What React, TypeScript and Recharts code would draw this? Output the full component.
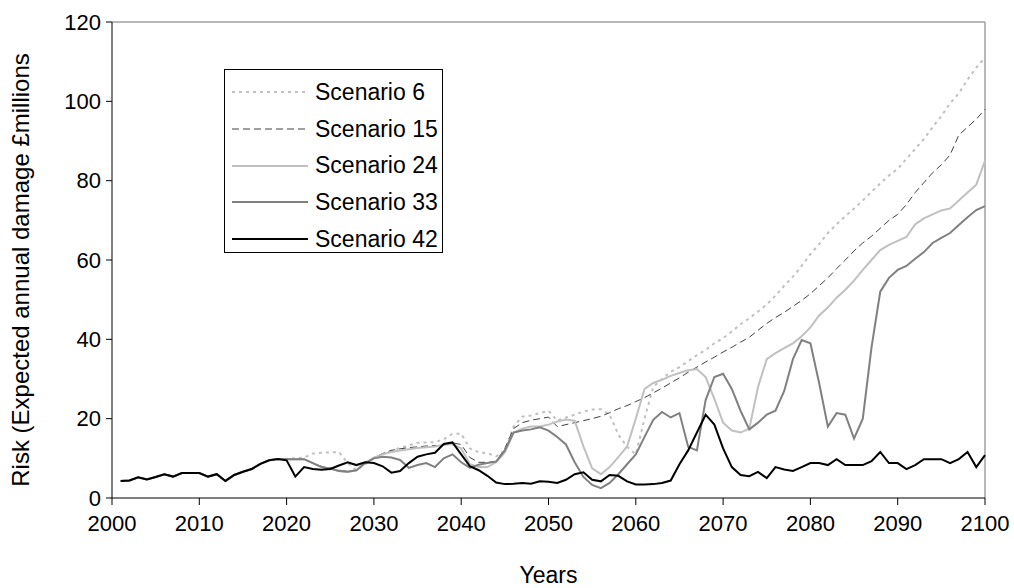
import { LineChart, Line, XAxis, YAxis, Legend, ReferenceLine } from 'recharts'

const FONT = '"Liberation Sans", Arial, sans-serif'

// years on the x axis, 2001..2100
const years = Array.from({ length: 100 }, (_, i) => 2001 + i)

const xTicks = [2000, 2010, 2020, 2030, 2040, 2050, 2060, 2070, 2080, 2090, 2100]
const yTicks = [0, 20, 40, 60, 80, 100, 120]

const scenario6 = [
  4.3, 4.4, 5.2, 4.7, 5.3, 6.0, 5.4, 6.3, 6.3, 6.3, 5.4, 6.0, 4.3, 5.8, 6.6, 7.3, 8.6, 9.5, 9.8,
  9.9, 10.0, 10.2, 11.2, 11.4, 11.5, 11.6, 8.8, 7.0, 8.5, 10.0, 11.0, 12.0, 12.6, 13.3, 13.9, 14.0, 14.1, 14.8, 16.2,
  16.2, 12.5, 11.5, 11.3, 10.5, 12.0, 18.0, 20.5, 20.8, 21.4, 22.0, 19.5, 20.3, 21.0, 21.8, 22.3, 22.4, 21.0, 16.0, 12.9,
  11.0, 20.0, 28.0, 30.0, 31.8, 33.0, 34.5, 36.0, 37.3, 39.0, 40.3, 42.0, 43.8, 45.3, 47.0, 48.8, 51.0, 53.5, 55.8, 58.5,
  61.5, 64.0, 66.8, 69.0, 71.0, 73.0, 75.0, 77.2, 79.3, 81.3, 83.0, 85.5, 88.0, 90.5, 93.5, 96.3, 99.5, 102.0, 105.5, 108.5,
  111.0,
]

const scenario15 = [
  4.3, 4.4, 5.2, 4.7, 5.3, 6.0, 5.4, 6.3, 6.3, 6.3, 5.4, 6.0, 4.3, 5.8, 6.6, 7.3, 8.6, 9.5, 9.8,
  9.8, 9.8, 9.8, 8.8, 8.0, 7.6, 7.0, 6.8, 7.0, 8.8, 10.2, 11.2, 12.0, 12.4, 12.7, 12.9, 13.1, 13.2, 13.3, 13.9,
  13.5, 10.2, 9.0, 9.0, 9.2, 12.5, 17.5, 19.0, 19.6, 20.0, 20.4, 18.0, 18.5, 19.0, 19.5, 20.0, 20.6, 21.5, 22.5, 23.3,
  24.3, 25.3, 26.5, 27.7, 29.0, 30.3, 31.7, 33.0, 34.3, 35.5, 36.8, 38.0, 39.3, 40.5, 42.3, 44.0, 45.5, 46.8, 48.3, 49.8,
  51.5, 53.5, 55.5, 57.8, 60.0, 62.3, 64.3, 66.0, 68.0, 70.0, 71.5, 74.0, 77.0, 79.5, 82.0, 84.0, 86.5, 91.5, 93.5, 95.5,
  98.0,
]

const scenario24 = [
  4.3, 4.4, 5.2, 4.7, 5.3, 6.0, 5.4, 6.3, 6.3, 6.3, 5.4, 6.0, 4.3, 5.8, 6.6, 7.3, 8.6, 9.5, 9.8,
  9.8, 9.8, 9.8, 8.8, 7.8, 7.4, 6.8, 6.6, 7.0, 8.8, 10.2, 11.0, 11.6, 12.0, 12.3, 12.6, 12.8, 13.0, 13.4, 13.6,
  12.5, 8.5, 7.8, 7.8, 9.0, 11.5, 16.5, 17.5, 18.0, 18.0, 18.5, 19.3, 19.8, 19.5, 13.0, 7.5, 6.0, 7.8, 10.3, 13.0,
  20.0, 27.5, 29.0, 29.8, 30.8, 31.5, 32.2, 32.5, 30.5, 25.0, 19.0, 17.0, 16.5, 17.5, 28.0, 35.0, 36.5, 37.8, 39.0, 40.8,
  43.0, 46.0, 48.0, 50.5, 52.5, 54.8, 57.5, 60.0, 62.5, 63.8, 64.8, 65.8, 69.0, 70.5, 71.5, 72.5, 73.0, 75.0, 77.0, 79.0,
  85.0,
]

const scenario33 = [
  4.3, 4.4, 5.2, 4.7, 5.3, 6.0, 5.4, 6.3, 6.3, 6.3, 5.4, 6.0, 4.3, 5.8, 6.6, 7.3, 8.6, 9.5, 9.8,
  9.8, 9.8, 9.8, 8.8, 7.8, 7.4, 6.8, 6.6, 7.0, 8.8, 10.0, 10.4, 10.2, 9.6, 7.6, 8.3, 8.8, 7.8, 10.0, 11.0,
  9.0, 7.6, 8.4, 8.8, 9.2, 12.0, 16.5, 17.0, 17.3, 17.8, 17.0, 15.4, 13.5, 9.0, 5.3, 3.3, 2.5, 3.8, 6.0, 8.5,
  11.0, 15.4, 19.7, 21.7, 20.3, 21.4, 12.9, 12.0, 24.7, 30.5, 31.3, 27.5, 22.0, 17.3, 19.0, 21.0, 22.0, 27.0, 35.0, 39.8,
  39.0, 29.0, 18.0, 21.4, 21.0, 15.0, 20.0, 38.0, 52.0, 55.5, 57.5, 58.5, 60.3, 62.0, 64.3, 65.6, 66.8, 68.8, 70.8, 72.6,
  73.6,
]

const scenario42 = [
  4.3, 4.4, 5.2, 4.7, 5.3, 6.0, 5.4, 6.3, 6.3, 6.3, 5.4, 6.0, 4.3, 5.8, 6.6, 7.3, 8.6, 9.5, 9.8,
  9.5, 5.4, 7.8, 7.3, 7.1, 7.3, 8.2, 9.0, 8.3, 9.0, 8.8, 8.0, 6.4, 6.8, 8.8, 10.4, 11.0, 11.4, 13.6, 14.0,
  11.0, 8.0, 7.0, 5.6, 3.9, 3.5, 3.6, 3.8, 3.6, 4.2, 4.1, 3.8, 4.6, 6.0, 6.5, 4.6, 4.2, 5.8, 5.6, 4.2,
  3.4, 3.4, 3.5, 3.8, 4.4, 8.5, 12.0, 16.5, 21.0, 18.5, 12.5, 7.8, 5.8, 5.5, 6.6, 5.0, 7.8, 7.2, 6.8, 7.8,
  8.8, 8.8, 8.3, 9.8, 8.3, 8.3, 8.3, 9.3, 11.6, 8.8, 8.8, 7.3, 8.3, 9.8, 9.8, 9.8, 8.8, 9.8, 11.6, 7.8,
  10.8,
]

const SERIES = [
  { key: 's6', name: 'Scenario 6', values: scenario6, color: '#c0c0c0', width: 2, dash: '3 4' },
  { key: 's15', name: 'Scenario 15', values: scenario15, color: '#404040', width: 1, dash: '7 4' },
  { key: 's24', name: 'Scenario 24', values: scenario24, color: '#c0c0c0', width: 2, dash: undefined },
  { key: 's33', name: 'Scenario 33', values: scenario33, color: '#808080', width: 2, dash: undefined },
  { key: 's42', name: 'Scenario 42', values: scenario42, color: '#000000', width: 2, dash: undefined },
]

const data = years.map((year, i) => {
  const row: Record<string, number> = { year }
  SERIES.forEach(s => { row[s.key] = s.values[i] })
  return row
})

function LegendBox() {
  return (
    <div style={{
      width: 219, height: 184, boxSizing: 'border-box', border: '1px solid #000',
      background: '#fff', paddingTop: 4, fontFamily: FONT,
    }}>
      {SERIES.map(s => (
        <div key={s.key} style={{ display: 'flex', alignItems: 'center', height: 36.7 }}>
          <svg width={76} height={6} style={{ marginLeft: 7, flexShrink: 0 }}>
            <line x1={0} y1={3} x2={76} y2={3} stroke={s.color}
              strokeWidth={s.width} strokeDasharray={s.dash} />
          </svg>
          <span style={{ marginLeft: 7, fontSize: 23, color: '#000', whiteSpace: 'nowrap' }}>
            {s.name}
          </span>
        </div>
      ))}
    </div>
  )
}

function YLabel({ viewBox }: any) {
  const cx = viewBox.x + 20
  const cy = viewBox.y + viewBox.height / 2 + 10
  return (
    <text x={cx} y={cy} transform={`rotate(-90, ${cx}, ${cy})`} textAnchor="middle"
      dominantBaseline="central" fontSize={24} fontFamily={FONT} fill="#000">
      Risk (Expected annual damage £millions
    </text>
  )
}

function XLabel({ viewBox }: any) {
  return (
    <text x={viewBox.x + viewBox.width / 2} y={viewBox.y + 77} textAnchor="middle"
      dominantBaseline="central" fontSize={23} fontFamily={FONT} fill="#000">
      Years
    </text>
  )
}

export default function App() {
  return (
    <div style={{ position: 'absolute', left: 0, top: 0, width: 1014, height: 588, background: '#fff', fontFamily: FONT }}>
      <LineChart width={1014} height={588} data={data}
        margin={{ top: 22, right: 29, left: 0, bottom: 0 }}>
        <XAxis dataKey="year" type="number" domain={[2000, 2100]} ticks={xTicks}
          height={90} tickSize={7} tickMargin={10} interval={0}
          stroke="#000" tick={{ fill: '#000', fontSize: 22, fontFamily: FONT }}
          label={<XLabel />} />
        <YAxis domain={[0, 120]} ticks={yTicks} width={112} tickSize={6} tickMargin={5}
          interval={0} stroke="#000" tick={{ fill: '#000', fontSize: 22, fontFamily: FONT }}
          label={<YLabel />} />
        <ReferenceLine y={120} stroke="#a0a0a0" strokeWidth={1.5} />
        <ReferenceLine x={2100} stroke="#a0a0a0" strokeWidth={1.5} />
        {SERIES.map(s => (
          <Line key={s.key} dataKey={s.key} name={s.name} type="linear"
            stroke={s.color} strokeWidth={s.width} strokeDasharray={s.dash}
            dot={false} activeDot={false} isAnimationActive={false} />
        ))}
        <Legend layout="vertical" align="center" verticalAlign="middle"
          content={<LegendBox />}
          wrapperStyle={{ left: 224, top: 69, width: 219, height: 184 }} />
      </LineChart>
    </div>
  )
}
